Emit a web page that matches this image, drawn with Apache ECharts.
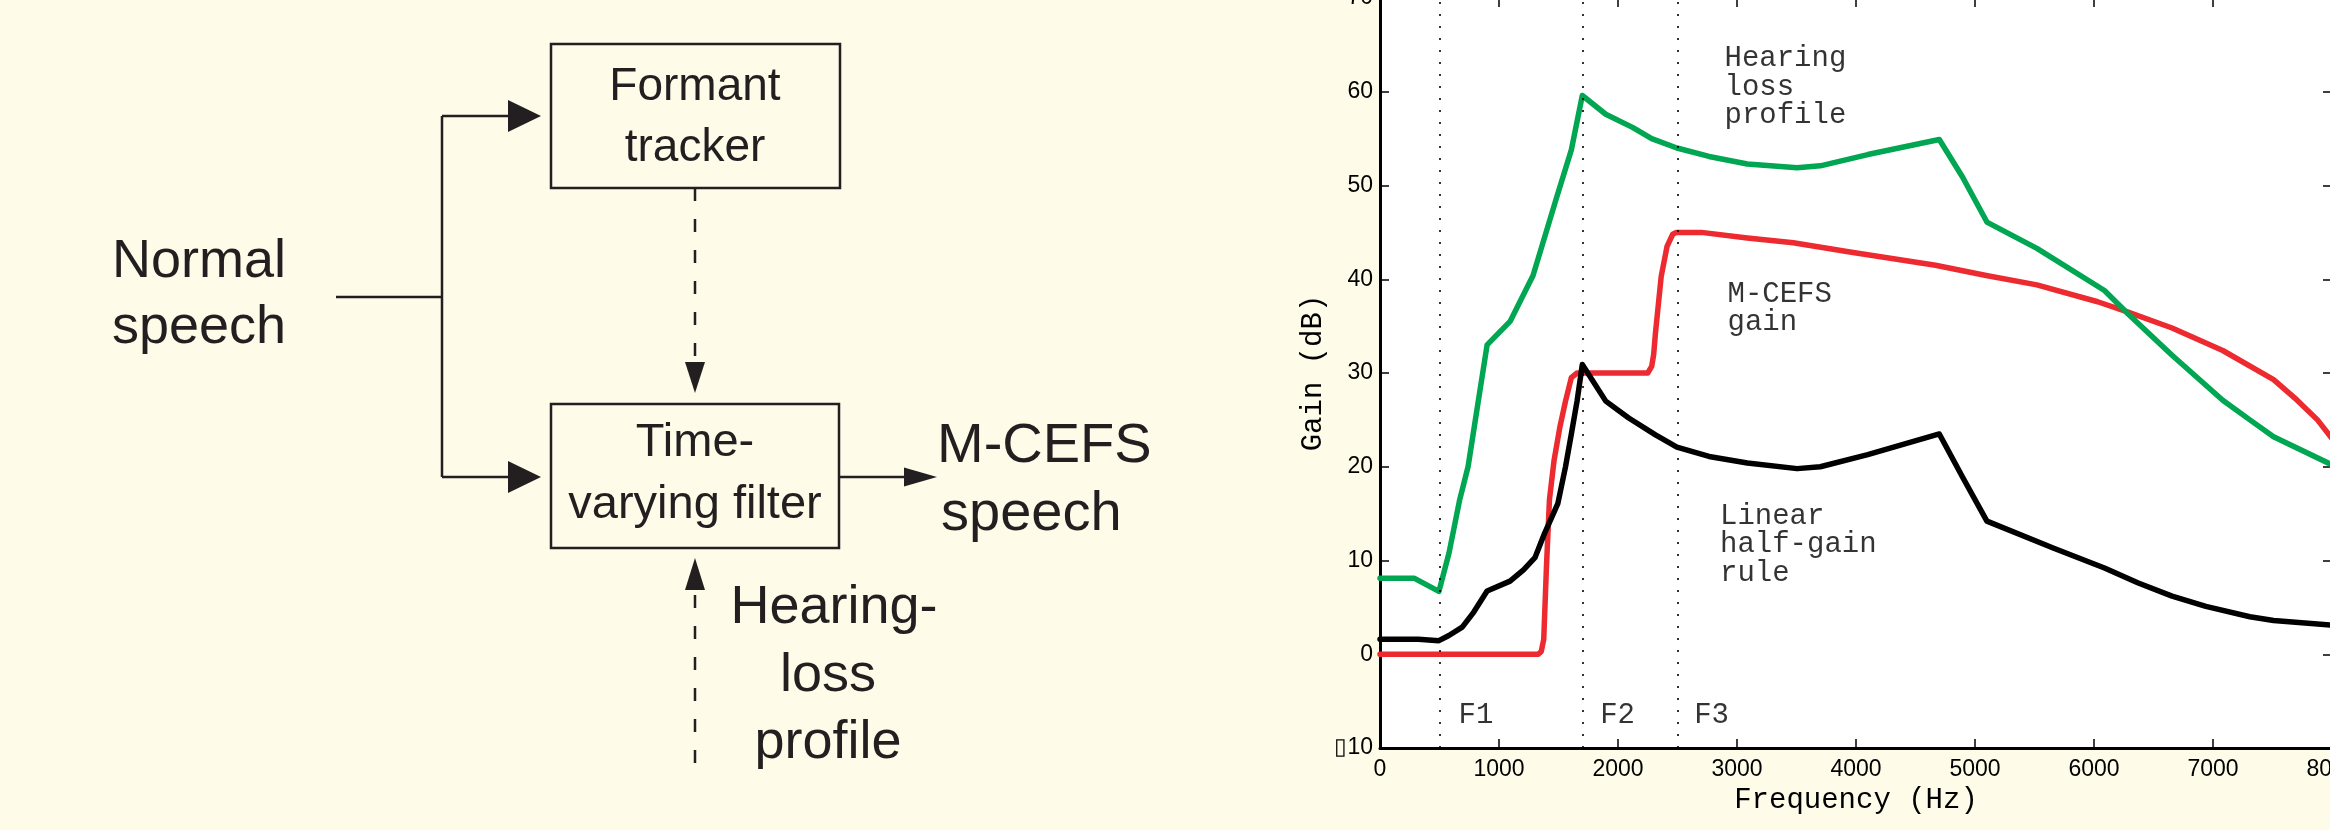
<!DOCTYPE html>
<html>
<head>
<meta charset="utf-8">
<title>M-CEFS gain vs frequency</title>
<script src="https://cdn.jsdelivr.net/npm/echarts@6/dist/echarts.min.js"></script>
<style>
  html, body { margin: 0; padding: 0; background: #fefbe8; }
  #chart { width: 2330px; height: 830px; }
</style>
</head>
<body>
<div id="chart"></div>
<script>
// hearing loss profile (green)
const hlFreq = [0, 290, 495, 580, 670, 740, 826, 900, 1093, 1286, 1479, 1608, 1700, 1897, 2122, 2283, 2495, 2765, 3087, 3505, 3700, 4099, 4700, 4895, 5100, 5520, 6088, 6287, 6656, 7082, 7310, 7509, 8000]
const hlGain = [8.1, 8.1, 6.7, 10.8, 16.5, 20, 27, 33.0, 35.5, 40.4, 48.5, 53.8, 59.6, 57.6, 56.2, 55.0, 54.0, 53.1, 52.3, 51.9, 52.1, 53.3, 54.9, 50.9, 46.1, 43.3, 38.8, 36.3, 31.9, 27.1, 25.0, 23.2, 20.2]

// M-CEFS gain (red)
const mcFreq = [0, 1330, 1355, 1376, 1399, 1424, 1463, 1511, 1559, 1608, 1656, 2250, 2283, 2300, 2315, 2363, 2412, 2460, 2490, 2700, 3087, 3473, 3949, 4668, 5094, 5520, 6031, 6287, 6656, 7082, 7509, 7707, 7878, 8000]
const mcGain = [0, 0, 0.3, 1.6, 9.4, 16.5, 20.7, 24.2, 27, 29.5, 30, 30, 30.7, 32, 34.3, 40.3, 43.5, 44.8, 45, 45, 44.4, 43.9, 42.9, 41.5, 40.4, 39.4, 37.6, 36.5, 34.8, 32.4, 29.3, 27.1, 25.0, 23.0]

// linear half-gain rule (black)
const hgFreq = [0, 322, 495, 579, 691, 788, 900, 1093, 1206, 1302, 1383, 1495, 1559, 1608, 1656, 1700, 1897, 2090, 2315, 2495, 2765, 3087, 3505, 3700, 4099, 4700, 4895, 5100, 5662, 6088, 6372, 6656, 6940, 7310, 7509, 8000]
const hgGain = [1.6, 1.6, 1.45, 2.0, 2.9, 4.5, 6.75, 7.8, 9.0, 10.3, 12.9, 16.1, 20.0, 23.5, 27, 30.9, 27, 25.2, 23.4, 22.1, 21.1, 20.4, 19.8, 20.0, 21.3, 23.5, 18.9, 14.2, 11.3, 9.2, 7.6, 6.2, 5.1, 4.0, 3.6, 3.1]

// formant markers
const formantFreq = [500, 1700, 2500]
const formantNames = ['F1', 'F2', 'F3']
const formantNameFreq = [660, 1850, 2640]
const formantNameGain = [-6.5, -6.5, -6.5]

// curve annotations
const noteText = ['Hearing\nloss\nprofile', 'M-CEFS\ngain', 'Linear\nhalf-gain\nrule']
const noteFreq = [2895, 2920, 2857]
const noteGain = [60.5, 36.9, 11.7]

const zip = (xs, ys) => xs.map((x, i) => [x, ys[i]])

const ink = '#231f20'
const mono = 'Liberation Mono'
const sans = 'Liberation Sans'

// block diagram pieces (left panel)
function line(x1, y1, x2, y2, dash) {
  return {
    type: 'line', silent: true,
    shape: { x1, y1, x2, y2 },
    style: { stroke: ink, lineWidth: 2.5, lineDash: dash || null }
  }
}
function head(tx, ty, dir, len, half) {
  let pts
  if (dir === 'right') pts = [[tx, ty], [tx - len, ty - half], [tx - len, ty + half]]
  else if (dir === 'down') pts = [[tx, ty], [tx - half, ty - len], [tx + half, ty - len]]
  else pts = [[tx, ty], [tx - half, ty + len], [tx + half, ty + len]]
  return { type: 'polygon', silent: true, shape: { points: pts }, style: { fill: ink } }
}
function box(x, y, w, h) {
  return {
    type: 'rect', silent: true,
    shape: { x, y, width: w, height: h },
    style: { fill: 'none', stroke: ink, lineWidth: 2.5 }
  }
}
function label(text, x, y, size, align) {
  return {
    type: 'text', silent: true, x, y,
    style: {
      text, fill: ink, font: size + 'px "' + sans + '"',
      align: align || 'center', verticalAlign: 'middle',
      textAlign: align || 'center', textVerticalAlign: 'middle'
    }
  }
}

const dash = [13, 18]
const diagram = [
  box(551, 44, 289, 144),
  box(551, 404, 288, 144),
  line(336, 297, 442, 297),
  line(442, 116, 442, 477),
  line(442, 116, 510, 116),
  head(541, 116, 'right', 33, 16),
  line(442, 477, 510, 477),
  head(541, 477, 'right', 33, 16),
  line(839, 477, 905, 477),
  head(937, 477, 'right', 33, 9.5),
  line(695, 188, 695, 362, dash),
  head(695, 393, 'down', 31, 10),
  line(695, 763, 695, 590, dash),
  head(695, 558, 'up', 32, 10),
  label('Formant', 695, 87, 46),
  label('tracker', 695, 148, 46),
  label('Time-', 695, 443, 47),
  label('varying filter', 695, 505, 47),
  label('Normal', 112, 262, 54, 'left'),
  label('speech', 112, 328, 54, 'left'),
  label('M-CEFS', 937, 447, 56, 'left'),
  label('speech', 941, 515, 56, 'left'),
  label('Hearing-', 834, 608, 54),
  label('loss', 828, 676, 54),
  label('profile', 828, 743, 54)
]

const tickLabel = { color: '#000', fontSize: 23, fontFamily: sans }
const axisLine = { onZero: false, lineStyle: { color: '#000', width: 3 } }
const axisTick = { inside: true, length: 9, lineStyle: { color: '#000', width: 1.5 } }

const chart = echarts.init(document.getElementById('chart'))
chart.setOption({
  backgroundColor: '#fefbe8',
  animation: false,
  grid: {
    left: 1380, right: -2, top: -2, bottom: 82,
    show: true, backgroundColor: '#ffffff', borderWidth: 0,
    outerBoundsMode: 'none'
  },
  xAxis: [{
    type: 'value', min: 0, max: 8000, interval: 1000, position: 'bottom',
    name: 'Frequency (Hz)', nameLocation: 'middle', nameGap: 33,
    nameTextStyle: { color: '#000', fontSize: 29, fontFamily: mono },
    axisLine, axisTick,
    axisLabel: { ...tickLabel, margin: 10, formatter: v => String(v) },
    splitLine: { show: false }
  }, {
    type: 'value', min: 0, max: 8000, interval: 1000, position: 'top',
    axisLine, axisTick,
    axisLabel: { show: false },
    splitLine: { show: false }
  }],
  yAxis: [{
    type: 'value', min: -10, max: 70, interval: 10, position: 'left',
    name: 'Gain (dB)', nameLocation: 'middle', nameGap: 52, nameRotate: 90,
    nameTextStyle: { color: '#000', fontSize: 29, fontFamily: mono },
    axisLine, axisTick,
    axisLabel: { ...tickLabel, margin: 7, formatter: v => v < 0 ? '\u25AF' + Math.abs(v) : String(v) },
    splitLine: { show: false }
  }, {
    type: 'value', min: -10, max: 70, interval: 10, position: 'right',
    axisLine, axisTick,
    axisLabel: { show: false },
    splitLine: { show: false }
  }],
  graphic: diagram,
  series: [{
    name: 'M-CEFS gain', type: 'line', symbol: 'none',
    data: zip(mcFreq, mcGain),
    lineStyle: { color: '#ec2a2f', width: 5.5, cap: 'round', join: 'round' }
  }, {
    name: 'Hearing loss profile', type: 'line', symbol: 'none',
    data: zip(hlFreq, hlGain),
    lineStyle: { color: '#00a651', width: 5.5, cap: 'round', join: 'round' }
  }, {
    name: 'Linear half-gain rule', type: 'line', symbol: 'none',
    data: zip(hgFreq, hgGain),
    lineStyle: { color: '#000', width: 5.5, cap: 'round', join: 'round' }
  }, {
    name: 'formants', type: 'scatter', symbolSize: 0, silent: true,
    data: formantNames.map((n, i) => ({ name: n, value: [formantNameFreq[i], formantNameGain[i]] })),
    label: {
      show: true, formatter: '{b}', position: [0, 0], align: 'left', verticalAlign: 'middle',
      color: '#000', fontSize: 29, fontFamily: mono
    },
    markLine: {
      silent: true, symbol: 'none', label: { show: false },
      lineStyle: { color: '#000', width: 1.6, type: [2, 10] },
      data: formantFreq.map(f => ({ xAxis: f }))
    }
  }, {
    name: 'notes', type: 'scatter', symbolSize: 0, silent: true,
    data: noteText.map((t, i) => ({ name: t, value: [noteFreq[i], noteGain[i]] })),
    label: {
      show: true, formatter: '{b}', position: [0, 0], align: 'left', verticalAlign: 'middle',
      color: '#000', fontSize: 29, lineHeight: 28.5, fontFamily: mono
    }
  }]
})
</script>
</body>
</html>
